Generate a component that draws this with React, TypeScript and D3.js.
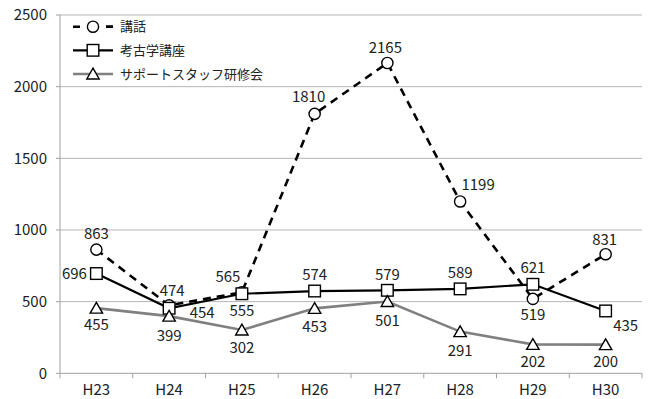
import React from "react";
import * as d3 from "d3";

// Fiscal years (Heisei era)
const years = ["H23", "H24", "H25", "H26", "H27", "H28", "H29", "H30"];

// Attendance per program
const lectureValues = [863, 474, 565, 1810, 2165, 1199, 519, 831];
const archaeologyValues = [696, 454, 555, 574, 579, 589, 621, 435];
const supportStaffValues = [455, 399, 302, 453, 501, 291, 202, 200];

const seriesNames = ["講話", "考古学講座", "サポートスタッフ研修会"];

const yTicks = [0, 500, 1000, 1500, 2000, 2500];

// Label placement offsets (dx, dy) relative to each point
const lectureLabelOffsets: [number, number][] = [
  [0, -16], [3, -15], [-14, -16], [-6, -17], [-2, -15], [18, -17], [0, 16], [-1, -15],
];
const archaeologyLabelOffsets: [number, number][] = [
  [-22, 0], [33, 4], [0, 17], [0, -16], [0, -16], [0, -16], [0, -17], [20, 15],
];
const supportLabelOffsets: [number, number][] = [
  [0, 17], [0, 19], [0, 18], [0, 18], [0, 19], [0, 19], [0, 17], [0, 17],
];

const W = 648;
const H = 399;
const left = 60;
const right = 642;
const top = 15;
const bottom = 373.3;

const FONT = "'Noto Sans CJK JP', 'Noto Sans', sans-serif";

export default function App() {
  const x = d3.scaleBand<string>().domain(years).range([left, right]);
  const y = d3.scaleLinear().domain([0, 2500]).range([bottom, top]);
  const cx = (d: string) => (x(d) as number) + x.bandwidth() / 2;

  const line = d3
    .line<number>()
    .x((_, i) => cx(years[i]))
    .y((v) => y(v));

  const gridColor = "#b5b5b5";
  const axisColor = "#a0a0a0";
  const gray = "#808080";

  const circle = (px: number, py: number, key: string) => (
    <circle key={key} cx={px} cy={py} r={5.6} fill="#fff" stroke="#000" strokeWidth={1.4} />
  );
  const square = (px: number, py: number, key: string) => (
    <rect key={key} x={px - 5.8} y={py - 5.8} width={11.6} height={11.6} fill="#fff" stroke="#000" strokeWidth={1.4} />
  );
  const triangle = (px: number, py: number, key: string) => (
    <path
      key={key}
      d={`M${px},${py - 5.8}L${px + 6.2},${py + 5}L${px - 6.2},${py + 5}Z`}
      fill="#fff"
      stroke="#000"
      strokeWidth={1.4}
    />
  );

  const labels = (vals: number[], offs: [number, number][], key: string) =>
    vals.map((v, i) => (
      <text
        key={`${key}${i}`}
        x={cx(years[i]) + offs[i][0]}
        y={y(v) + offs[i][1]}
        dy="0.36em"
        textAnchor="middle"
        fontSize={15}
        fill="#222"
      >
        {v}
      </text>
    ));

  const legendRows = [26.7, 50.3, 74];

  return (
    <div style={{ position: "absolute", left: 0, top: 0 }}>
      <svg width={W} height={H} style={{ display: "block", fontFamily: FONT }}>
        <rect width={W} height={H} fill="#fff" />
        {/* gridlines */}
        {yTicks.slice(1).map((t) => (
          <line key={t} x1={left} x2={right} y1={y(t)} y2={y(t)} stroke={gridColor} strokeWidth={1} />
        ))}
        {/* y axis */}
        <line x1={left} x2={left} y1={top} y2={bottom} stroke={axisColor} strokeWidth={1} />
        {yTicks.map((t) => (
          <g key={`yt${t}`}>
            <line x1={left - 4} x2={left} y1={y(t)} y2={y(t)} stroke={axisColor} />
            <text x={47} y={y(t)} dy="0.36em" textAnchor="end" fontSize={15} fill="#222">
              {t}
            </text>
          </g>
        ))}
        {/* x axis */}
        <line x1={left} x2={right} y1={bottom} y2={bottom} stroke={axisColor} strokeWidth={1} />
        {years.map((yr, i) => (
          <line
            key={`xt${yr}`}
            x1={(x(yr) as number) + (i === 0 ? 0 : 0)}
            x2={x(yr) as number}
            y1={bottom}
            y2={bottom + 5}
            stroke={axisColor}
          />
        ))}
        <line x1={right} x2={right} y1={bottom} y2={bottom + 5} stroke={axisColor} />
        {years.map((yr) => (
          <text key={`xl${yr}`} x={cx(yr)} y={390} dy="0.36em" textAnchor="middle" fontSize={15} fill="#222">
            {yr}
          </text>
        ))}

        {/* series lines */}
        <path d={line(lectureValues) || ""} fill="none" stroke="#000" strokeWidth={2.6} strokeDasharray="8,6" />
        <path d={line(archaeologyValues) || ""} fill="none" stroke="#000" strokeWidth={2.2} />
        <path d={line(supportStaffValues) || ""} fill="none" stroke={gray} strokeWidth={2.6} />

        {/* markers */}
        {lectureValues.map((v, i) => circle(cx(years[i]), y(v), `c${i}`))}
        {archaeologyValues.map((v, i) => square(cx(years[i]), y(v), `s${i}`))}
        {supportStaffValues.map((v, i) => triangle(cx(years[i]), y(v), `t${i}`))}

        {/* data labels */}
        {labels(lectureValues, lectureLabelOffsets, "ll")}
        {labels(archaeologyValues, archaeologyLabelOffsets, "al")}
        {labels(supportStaffValues, supportLabelOffsets, "sl")}

        {/* legend */}
        <g>
          <line x1={73} x2={113} y1={legendRows[0]} y2={legendRows[0]} stroke="#000" strokeWidth={2.6} strokeDasharray="7,26" />
          <line x1={106} x2={113} y1={legendRows[0]} y2={legendRows[0]} stroke="#000" strokeWidth={2.6} />
          {circle(93, legendRows[0], "lc")}
          <line x1={73} x2={113} y1={legendRows[1]} y2={legendRows[1]} stroke="#000" strokeWidth={2.2} />
          {square(93, legendRows[1], "ls")}
          <line x1={73} x2={113} y1={legendRows[2]} y2={legendRows[2]} stroke={gray} strokeWidth={2.6} />
          {triangle(93, legendRows[2], "lt")}
          {seriesNames.map((n, i) => (
            <text key={n} x={120} y={legendRows[i]} dy="0.36em" fontSize={13} fill="#222">
              {n}
            </text>
          ))}
        </g>
      </svg>
    </div>
  );
}
